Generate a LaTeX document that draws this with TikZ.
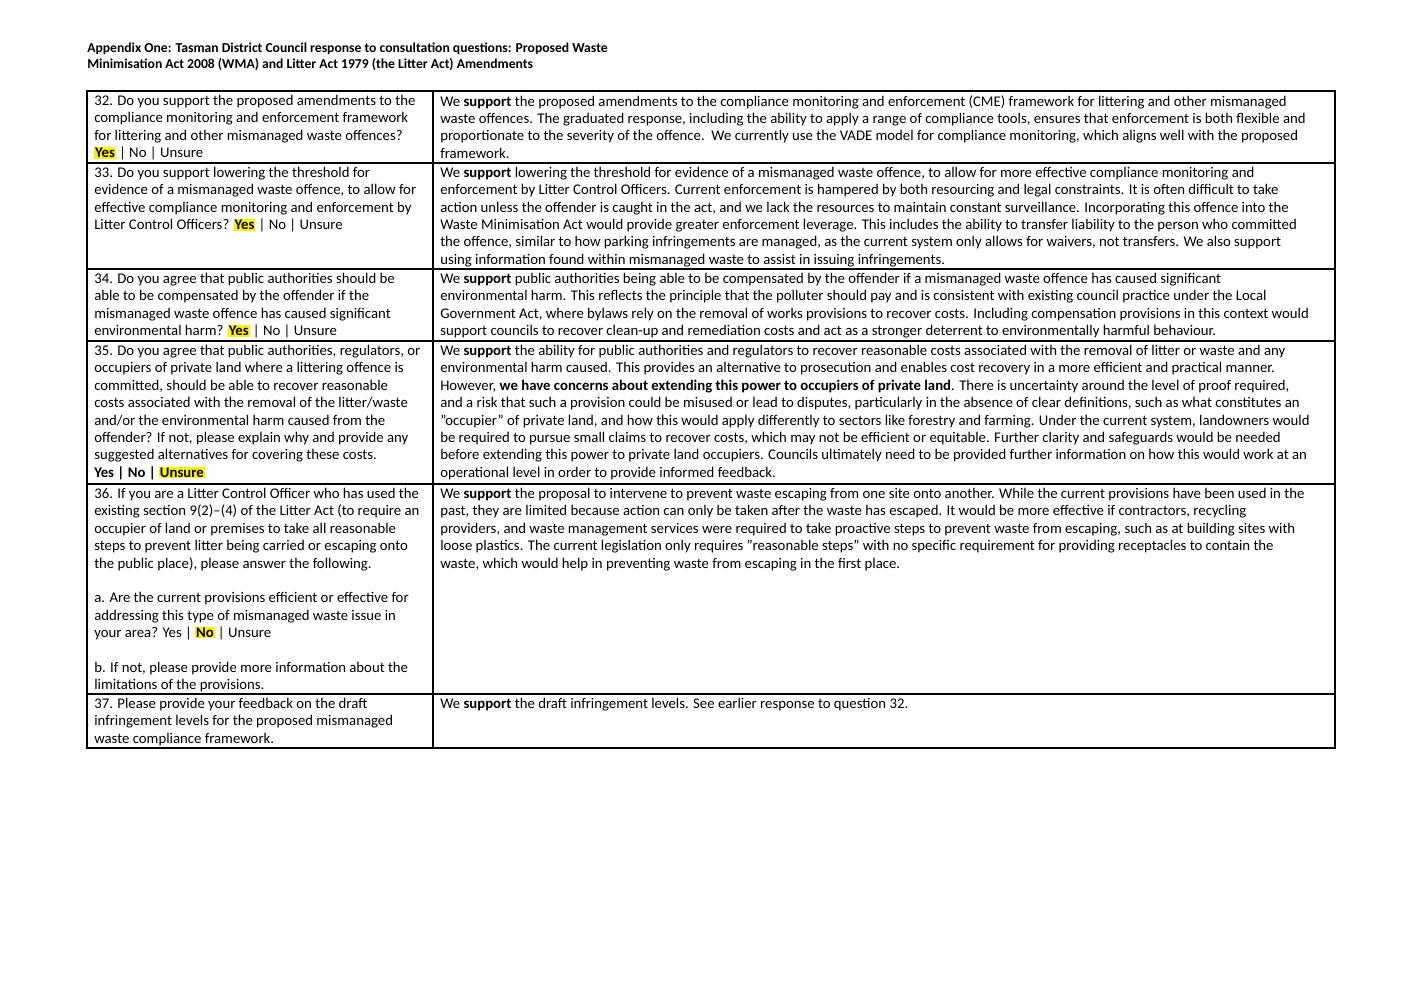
\documentclass[tikz,border=0pt]{standalone}
\usepackage{fontspec}
\setmainfont{Carlito}
\newcommand{\hlyel}[1]{{\setlength{\fboxsep}{0.6pt}\colorbox{yellow}{\textbf{#1}}}}
\newcommand{\sq}{\char"22 }
\begin{document}
\begin{tikzpicture}
        [x=0.025cm, y=-0.025cm,
        cell/.style={anchor=north west, inner sep=0pt, align=left, font={\fontsize{10.5}{12.35}\selectfont}},
        title/.style={anchor=north west, inner sep=0pt, align=left, font={\fontsize{9.7}{11.3}\selectfont\bfseries}},
        grid/.style={line width=1.1pt}]
        \useasboundingbox (0,0) rectangle (1421,1004);
        \node[title] (T) at (87,43) {Appendix One: Tasman District Council response to consultation questions: Proposed Waste\\Minimisation Act 2008 (WMA) and Litter Act 1979 (the Litter Act) Amendments};
        
        % table lines
        \draw[grid] (87,91) rectangle (1335,748);
        \draw[grid] (433,91) -- (433,748);
        \foreach \yy in {163,269,341,484,694}
            \draw[grid] (87,\yy) -- (1335,\yy);
        
        % questions
        \node[cell] (Q32) at (94,95) {32. Do you support the proposed amendments to the\\compliance monitoring and enforcement framework\\for littering and other mismanaged waste offences?\\\hlyel{Yes} | No | Unsure};
        \node[cell] (Q33) at (94,167) {33. Do you support lowering the threshold for\\evidence of a mismanaged waste offence, to allow for\\effective compliance monitoring and enforcement by\\Litter Control Officers? \hlyel{Yes} | No | Unsure};
        \node[cell] (Q34) at (94,273) {34. Do you agree that public authorities should be\\able to be compensated by the offender if the\\mismanaged waste offence has caused significant\\environmental harm? \hlyel{Yes} | No | Unsure};
        \node[cell] (Q35) at (94,345) {35. Do you agree that public authorities, regulators, or\\occupiers of private land where a littering offence is\\committed, should be able to recover reasonable\\costs associated with the removal of the litter/waste\\and/or the environmental harm caused from the\\offender? If not, please explain why and provide any\\suggested alternatives for covering these costs.\\\textbf{Yes | No |} \hlyel{Unsure}};
        \node[cell] (Q36) at (94,488) {36. If you are a Litter Control Officer who has used the\\existing section 9(2)--(4) of the Litter Act (to require an\\occupier of land or premises to take all reasonable\\steps to prevent litter being carried or escaping onto\\the public place), please answer the following.\\\strut\\a. Are the current provisions efficient or effective for\\addressing this type of mismanaged waste issue in\\your area? Yes | \hlyel{No} | Unsure\\\strut\\b. If not, please provide more information about the\\limitations of the provisions.};
        \node[cell] (Q37) at (94,698) {37. Please provide your feedback on the draft\\infringement levels for the proposed mismanaged\\waste compliance framework.};
        
        % responses
        \node[cell] (R32) at (440,95) {We \textbf{support} the proposed amendments to the compliance monitoring and enforcement (CME) framework for littering and other mismanaged\\waste offences. The graduated response, including the ability to apply a range of compliance tools, ensures that enforcement is both flexible and\\proportionate to the severity of the offence.\ \ We currently use the VADE model for compliance monitoring, which aligns well with the proposed\\framework.};
        \node[cell] (R33) at (440,167) {We \textbf{support} lowering the threshold for evidence of a mismanaged waste offence, to allow for more effective compliance monitoring and\\enforcement by Litter Control Officers. Current enforcement is hampered by both resourcing and legal constraints. It is often difficult to take\\action unless the offender is caught in the act, and we lack the resources to maintain constant surveillance. Incorporating this offence into the\\Waste Minimisation Act would provide greater enforcement leverage. This includes the ability to transfer liability to the person who committed\\the offence, similar to how parking infringements are managed, as the current system only allows for waivers, not transfers. We also support\\using information found within mismanaged waste to assist in issuing infringements.};
        \node[cell] (R34) at (440,273) {We \textbf{support} public authorities being able to be compensated by the offender if a mismanaged waste offence has caused significant\\environmental harm. This reflects the principle that the polluter should pay and is consistent with existing council practice under the Local\\Government Act, where bylaws rely on the removal of works provisions to recover costs. Including compensation provisions in this context would\\support councils to recover clean-up and remediation costs and act as a stronger deterrent to environmentally harmful behaviour.};
        \node[cell] (R35) at (440,345) {We \textbf{support} the ability for public authorities and regulators to recover reasonable costs associated with the removal of litter or waste and any\\environmental harm caused. This provides an alternative to prosecution and enables cost recovery in a more efficient and practical manner.\\However, \textbf{we have concerns about extending this power to occupiers of private land}. There is uncertainty around the level of proof required,\\and a risk that such a provision could be misused or lead to disputes, particularly in the absence of clear definitions, such as what constitutes an\\\sq occupier\sq\ of private land, and how this would apply differently to sectors like forestry and farming. Under the current system, landowners would\\be required to pursue small claims to recover costs, which may not be efficient or equitable. Further clarity and safeguards would be needed\\before extending this power to private land occupiers. Councils ultimately need to be provided further information on how this would work at an\\operational level in order to provide informed feedback.};
        \node[cell] (R36) at (440,488) {We \textbf{support} the proposal to intervene to prevent waste escaping from one site onto another. While the current provisions have been used in the\\past, they are limited because action can only be taken after the waste has escaped. It would be more effective if contractors, recycling\\providers, and waste management services were required to take proactive steps to prevent waste from escaping, such as at building sites with\\loose plastics. The current legislation only requires \sq reasonable steps\sq\ with no specific requirement for providing receptacles to contain the\\waste, which would help in preventing waste from escaping in the first place.};
        \node[cell] (R37) at (440,698) {We \textbf{support} the draft infringement levels. See earlier response to question 32.};
    
    \end{tikzpicture}
\end{document}
